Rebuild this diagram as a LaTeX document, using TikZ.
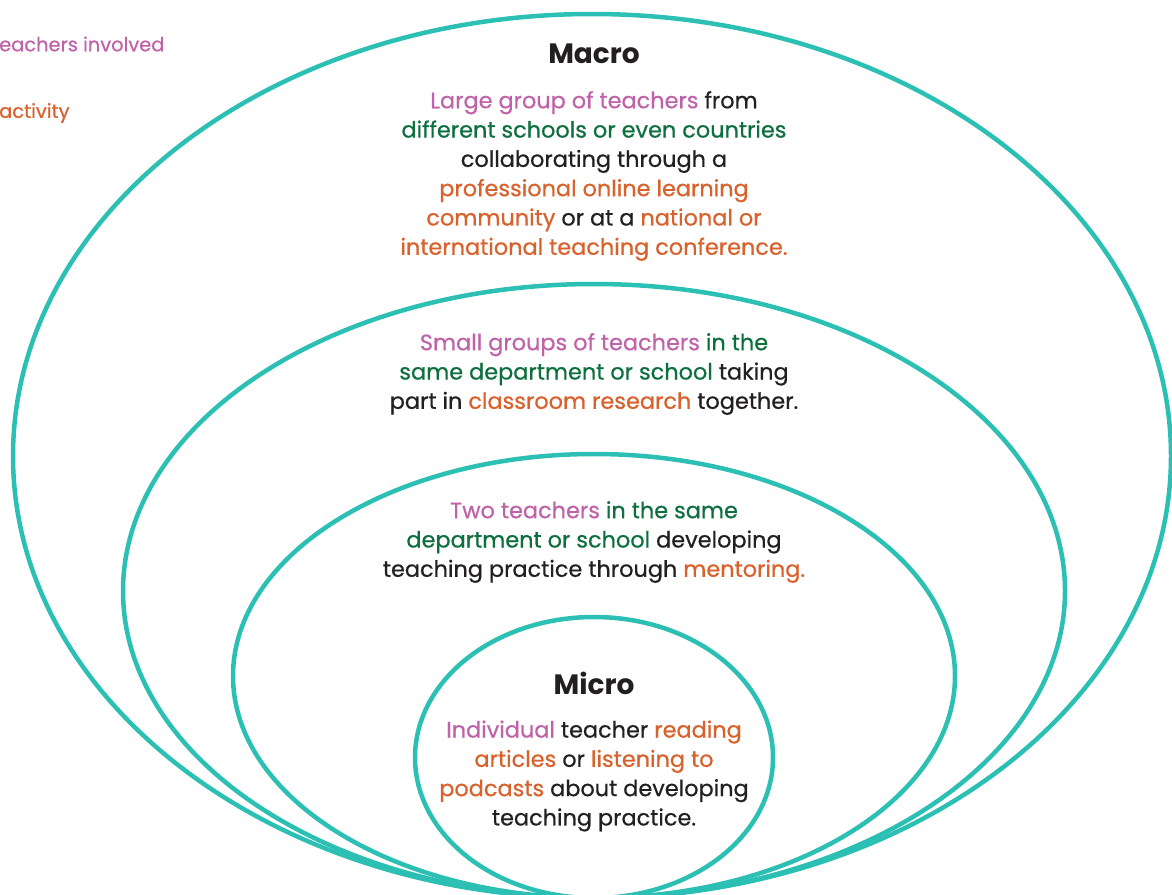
\documentclass[tikz,border=0pt]{standalone}
\usepackage{fontspec}
\setmainfont{Poppins}[UprightFeatures={FakeBold=0.6}]
\usepackage{xcolor}
\definecolor{ringteal}{HTML}{2CBFB4}
\definecolor{whopink}{HTML}{C062A8}
\definecolor{wheregreen}{HTML}{0E6F3E}
\definecolor{howorange}{HTML}{D8612C}
\definecolor{plainblack}{HTML}{231F20}
\newcommand{\who}[1]{\textcolor{whopink}{#1}}
\newcommand{\where}[1]{\textcolor{wheregreen}{#1}}
\newcommand{\how}[1]{\textcolor{howorange}{#1}}
\tikzset{
  ring/.style={draw=ringteal,line width=4.5pt},
  blurb/.style={align=center,text=plainblack,font=\fontsize{22.4}{29.3}\selectfont},
  heading/.style={text=plainblack,font=\fontsize{28}{32}\selectfont\bfseries},
  keytext/.style={anchor=west,inner sep=0pt,font=\fontsize{19.4}{22}\selectfont}
}

\begin{document}
\begin{tikzpicture}[x=1pt,y=-1pt]
  \useasboundingbox (0,0) rectangle (1172,894);

  % rings, outer to inner (all sit on the bottom edge)
  \foreach \cx/\cy/\rx/\ry in {592/456/579/442, 594/591/471/307, 594/676/361/222, 594/757.5/179/140.5}{
    \draw[ring] (\cx,\cy) ellipse [x radius=\rx, y radius=\ry];
  }

  % legend, cut off at the left edge
  \node[keytext,text=whopink] (keywho) at (-1,44) {eachers involved};
  \node[keytext,text=howorange] (keyhow) at (-1,113) {activity};

  \node[heading] (macro) at (594,54) {Macro};
  \node[blurb] (macrotext) at (594,176) {\who{Large group of teachers} from\\
    \where{different schools or even countries}\\
    collaborating through a\\
    \how{professional online learning}\\
    \how{community} or at a \how{national or}\\
    \how{international teaching conference.}};

  \node[blurb] (meso) at (594,374) {\who{Small groups of teachers} \where{in the}\\
    \where{same department or school} taking\\
    part in \how{classroom research} together.};

  \node[blurb] (pair) at (594,542) {\who{Two teachers} \where{in the same}\\
    \where{department or school} developing\\
    teaching practice through \how{mentoring.}};

  \node[heading] (micro) at (594,683) {Micro};
  \node[blurb] (microtext) at (594,776) {\who{Individual} teacher \how{reading}\\
    \how{articles} or \how{listening to}\\
    \how{podcasts} about developing\\
    teaching practice.};
\end{tikzpicture}
\end{document}
